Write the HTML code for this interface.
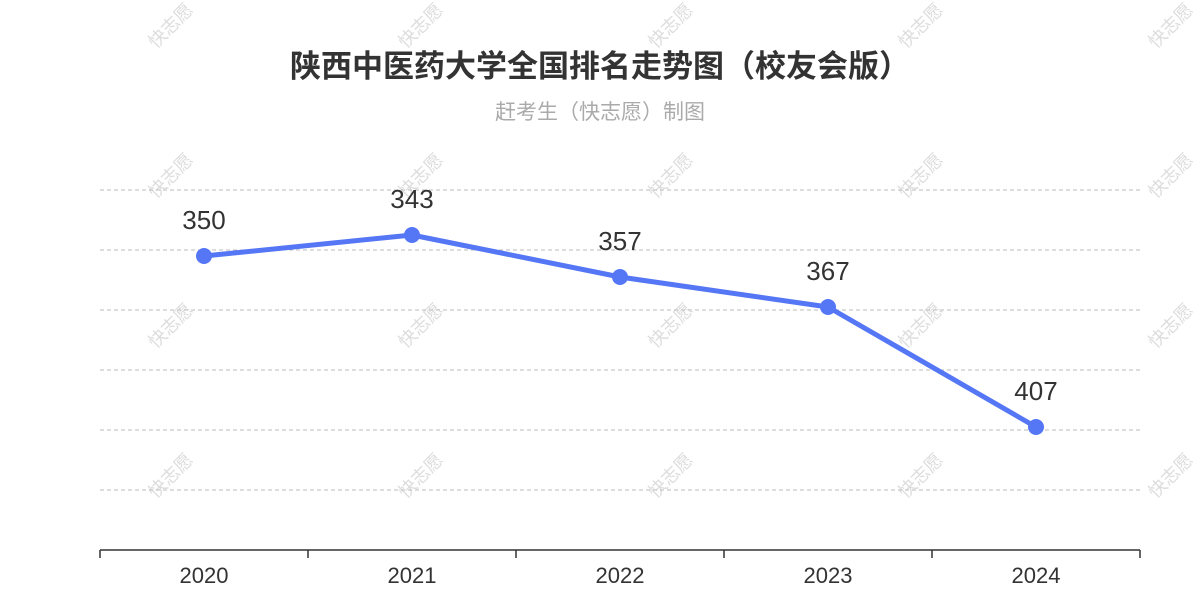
<!DOCTYPE html>
<html><head><meta charset="utf-8"><style>
html,body{margin:0;padding:0;background:#fff}
svg{display:block;font-family:"Liberation Sans","Noto Sans CJK SC",sans-serif}
</style></head><body>
<svg id="chart" width="1200" height="600">
<g id="wm"></g>
<text x="600" y="77" text-anchor="middle" font-size="31" font-weight="bold" fill="#333">陕西中医药大学全国排名走势图（校友会版）</text>
<text x="600" y="119" text-anchor="middle" font-size="21" fill="#aaa">赶考生（快志愿）制图</text>
<g id="grid"></g>
<g id="xaxis"></g>
<g id="series"></g>
</svg>
<script>
const categories=["2020","2021","2022","2023","2024"];
const ranks=[350,343,357,367,407];
const yDomain=[328,448];
const yGridValues=[328,348,368,388,408,428];
const NS="http://www.w3.org/2000/svg";
const L=100,R=1140,T=190,B=550;
const bw=(R-L)/categories.length;
const x=i=>L+bw*(i+0.5);
const y=v=>T+(v-yDomain[0])/(yDomain[1]-yDomain[0])*(B-T);
function mk(tag,attrs,parent){const e=document.createElementNS(NS,tag);for(const k in attrs)e.setAttribute(k,attrs[k]);parent.appendChild(e);return e;}
const wm=document.getElementById('wm');
[175,425,675,925,1175].forEach(cx=>[30,180,330,480].forEach(cy=>{
 const t=mk('text',{x:cx,y:cy,'text-anchor':'middle','font-size':18,fill:'#ddd',transform:`rotate(-45 ${cx} ${cy})`},wm);
 
 
 t.textContent='快志愿';
}));
const grid=document.getElementById('grid');
yGridValues.forEach(v=>{
 const l=mk('line',{x1:L,x2:R,y1:y(v),y2:y(v),stroke:'#bbb','stroke-dasharray':'4 3'},grid);
 
 
});
const xa=document.getElementById('xaxis');
const al=mk('line',{x1:L,x2:R,y1:B,y2:B,stroke:'#333','stroke-width':1.5},xa);


for(let i=0;i<=categories.length;i++){
 const tk=mk('line',{x1:L+bw*i,x2:L+bw*i,y1:B,y2:B+8,stroke:'#333','stroke-width':1.5},xa);
 
 
}
categories.forEach((c,i)=>{
 const t=mk('text',{x:x(i),y:583,'text-anchor':'middle','font-size':22,fill:'#333'},xa);
 
 
 t.textContent=c;
});
const s=document.getElementById('series');
const pl=mk('polyline',{points:ranks.map((v,i)=>x(i)+','+y(v)).join(' '),fill:'none',stroke:'#5577f5','stroke-width':5,'stroke-linejoin':'round'},s);


ranks.forEach((v,i)=>{
 const c=mk('circle',{cx:x(i),cy:y(v),r:8,fill:'#5577f5'},s);
 
 
 const t=mk('text',{x:x(i),y:y(v)-27,'text-anchor':'middle','font-size':26,fill:'#333'},s);
 
 
 t.textContent=v;
});
</script>
</body></html>
